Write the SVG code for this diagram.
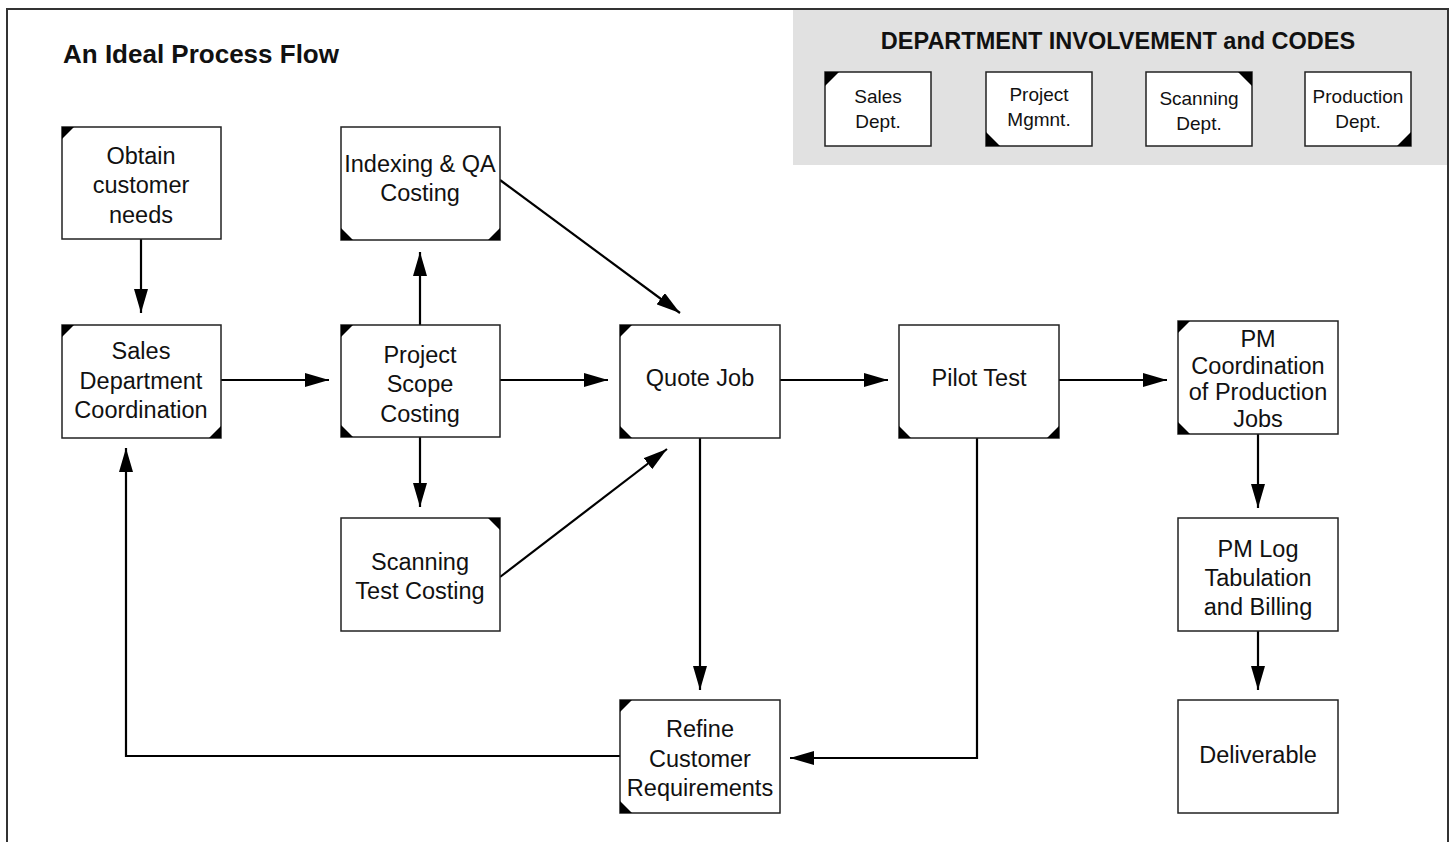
<svg xmlns="http://www.w3.org/2000/svg" width="1452" height="842" viewBox="0 0 1452 842">
<style>
.box{fill:#fff;stroke:#222;stroke-width:1.5}
.t{font-family:"Liberation Sans",Arial,sans-serif;font-size:23.5px;fill:#111;text-anchor:middle}
.lt{font-family:"Liberation Sans",Arial,sans-serif;font-size:19px;fill:#111;text-anchor:middle}
.c{fill:#000}
.ln{fill:none;stroke:#000;stroke-width:2.2}
</style>
<defs>
<marker id="ah" markerWidth="24" markerHeight="14" refX="24" refY="7" orient="auto" markerUnits="userSpaceOnUse">
<path d="M0,0 L24,7 L0,14 Z" fill="#000"/>
</marker>
</defs>
<rect x="0" y="0" width="1452" height="842" fill="#fff"/>
<path d="M7,850 V9 H1448 V850" fill="none" stroke="#333" stroke-width="2"/>
<rect x="793" y="10" width="654" height="155" fill="#e1e1e1"/>
<text x="63" y="63" font-family="Liberation Sans,Arial,sans-serif" font-size="26" font-weight="bold" fill="#111">An Ideal Process Flow</text>
<text x="1118" y="49" font-family="Liberation Sans,Arial,sans-serif" font-size="23.5" font-weight="bold" fill="#111" text-anchor="middle">DEPARTMENT INVOLVEMENT and CODES</text>

<g id="legend-sales"><rect class="box" x="825" y="72" width="106" height="74"/><path class="c" d="M825,72 h14 l-14,14 z"/><text class="lt" x="878" y="103">Sales</text><text class="lt" x="878" y="128">Dept.</text></g>
<g id="legend-pm"><rect class="box" x="986" y="72" width="106" height="74"/><path class="c" d="M986,146 h14 l-14,-14 z"/><text class="lt" x="1039" y="101">Project</text><text class="lt" x="1039" y="126">Mgmnt.</text></g>
<g id="legend-scan"><rect class="box" x="1146" y="72" width="106" height="74"/><path class="c" d="M1252,72 h-14 l14,14 z"/><text class="lt" x="1199" y="105">Scanning</text><text class="lt" x="1199" y="130">Dept.</text></g>
<g id="legend-prod"><rect class="box" x="1305" y="72" width="106" height="74"/><path class="c" d="M1411,146 h-14 l14,-14 z"/><text class="lt" x="1358" y="103">Production</text><text class="lt" x="1358" y="128">Dept.</text></g>

<g id="connectors">
<line class="ln" x1="141" y1="239" x2="141" y2="313" marker-end="url(#ah)"/>
<line class="ln" x1="221" y1="380" x2="329" y2="380" marker-end="url(#ah)"/>
<line class="ln" x1="420" y1="325" x2="420" y2="252" marker-end="url(#ah)"/>
<line class="ln" x1="420" y1="437" x2="420" y2="507" marker-end="url(#ah)"/>
<line class="ln" x1="500" y1="380" x2="608" y2="380" marker-end="url(#ah)"/>
<line class="ln" x1="500" y1="180" x2="680" y2="313" marker-end="url(#ah)"/>
<line class="ln" x1="500" y1="577" x2="667" y2="449" marker-end="url(#ah)"/>
<line class="ln" x1="780" y1="380" x2="888" y2="380" marker-end="url(#ah)"/>
<line class="ln" x1="1059" y1="380" x2="1167" y2="380" marker-end="url(#ah)"/>
<line class="ln" x1="700" y1="438" x2="700" y2="690" marker-end="url(#ah)"/>
<polyline class="ln" points="977,438 977,758 790,758" marker-end="url(#ah)"/>
<polyline class="ln" points="620,756 126,756 126,448" marker-end="url(#ah)"/>
<line class="ln" x1="1258" y1="434" x2="1258" y2="508" marker-end="url(#ah)"/>
<line class="ln" x1="1258" y1="631" x2="1258" y2="690" marker-end="url(#ah)"/>
</g>

<g id="obtain"><rect class="box" x="62" y="127" width="159" height="112"/><path class="c" d="M62,127 h12 l-12,12 z"/><text class="t" x="141" y="164">Obtain</text><text class="t" x="141" y="193">customer</text><text class="t" x="141" y="223">needs</text></g>
<g id="sales-coord"><rect class="box" x="62" y="325" width="159" height="113"/><path class="c" d="M62,325 h12 l-12,12 z"/><path class="c" d="M221,438 h-12 l12,-12 z"/><text class="t" x="141" y="359">Sales</text><text class="t" x="141" y="389">Department</text><text class="t" x="141" y="418">Coordination</text></g>
<g id="indexing"><rect class="box" x="341" y="127" width="159" height="113"/><path class="c" d="M341,240 h12 l-12,-12 z"/><path class="c" d="M500,240 h-12 l12,-12 z"/><text class="t" x="420" y="172">Indexing &amp; QA</text><text class="t" x="420" y="201">Costing</text></g>
<g id="project-scope"><rect class="box" x="341" y="325" width="159" height="112"/><path class="c" d="M341,325 h12 l-12,12 z"/><path class="c" d="M341,437 h12 l-12,-12 z"/><text class="t" x="420" y="363">Project</text><text class="t" x="420" y="392">Scope</text><text class="t" x="420" y="422">Costing</text></g>
<g id="scanning-test"><rect class="box" x="341" y="518" width="159" height="113"/><path class="c" d="M500,518 h-12 l12,12 z"/><text class="t" x="420" y="570">Scanning</text><text class="t" x="420" y="599">Test Costing</text></g>
<g id="quote-job"><rect class="box" x="620" y="325" width="160" height="113"/><path class="c" d="M620,325 h12 l-12,12 z"/><path class="c" d="M620,438 h12 l-12,-12 z"/><text class="t" x="700" y="386">Quote Job</text></g>
<g id="refine"><rect class="box" x="620" y="700" width="160" height="113"/><path class="c" d="M620,700 h12 l-12,12 z"/><path class="c" d="M620,813 h12 l-12,-12 z"/><text class="t" x="700" y="737">Refine</text><text class="t" x="700" y="767">Customer</text><text class="t" x="700" y="796">Requirements</text></g>
<g id="pilot-test"><rect class="box" x="899" y="325" width="160" height="113"/><path class="c" d="M899,438 h12 l-12,-12 z"/><path class="c" d="M1059,438 h-12 l12,-12 z"/><text class="t" x="979" y="386">Pilot Test</text></g>
<g id="pm-coord"><rect class="box" x="1178" y="321" width="160" height="113"/><path class="c" d="M1178,321 h12 l-12,12 z"/><path class="c" d="M1178,434 h12 l-12,-12 z"/><text class="t" x="1258" y="347">PM</text><text class="t" x="1258" y="374">Coordination</text><text class="t" x="1258" y="400">of Production</text><text class="t" x="1258" y="427">Jobs</text></g>
<g id="pm-log"><rect class="box" x="1178" y="518" width="160" height="113"/><text class="t" x="1258" y="557">PM Log</text><text class="t" x="1258" y="586">Tabulation</text><text class="t" x="1258" y="615">and Billing</text></g>
<g id="deliverable"><rect class="box" x="1178" y="700" width="160" height="113"/><text class="t" x="1258" y="763">Deliverable</text></g>
</svg>
